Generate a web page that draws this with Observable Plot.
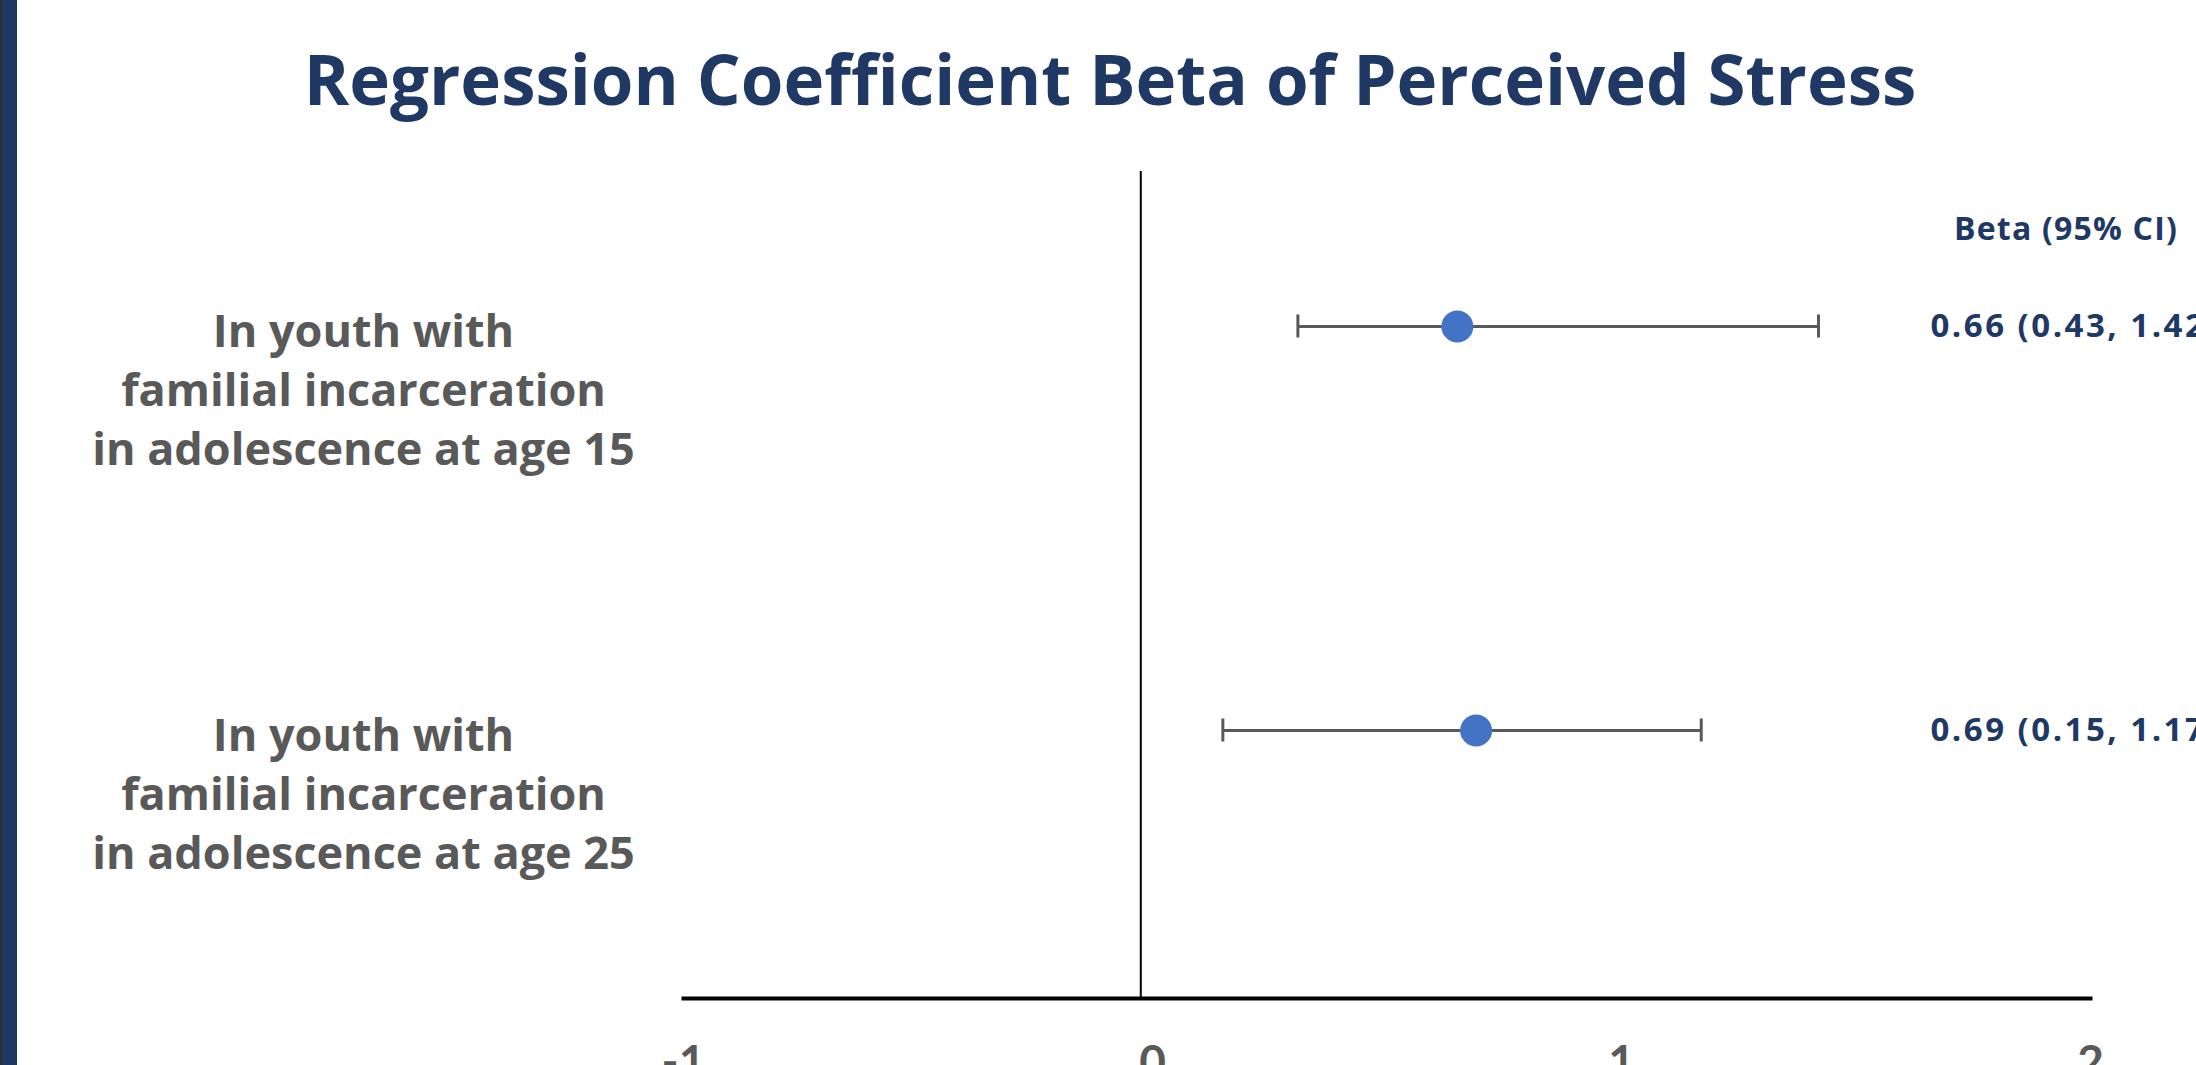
<!DOCTYPE html>
<html>
<head>
<meta charset="utf-8">
<script src="https://cdn.jsdelivr.net/npm/d3@7"></script>
<script src="https://cdn.jsdelivr.net/npm/@observablehq/plot@0.6"></script>
<style>
  html, body { margin: 0; padding: 0; background: #ffffff; overflow: hidden; }
  body { width: 2196px; height: 1065px; position: relative; font-family: "Open Sans", Lato, sans-serif; }
  #bar { position: absolute; left: 0; top: 0; width: 17px; height: 1065px; background: #1f3864; border-left: 2px solid #26303f; box-sizing: border-box; z-index: 2; }
  #title { position: absolute; left: 0; top: 0; width: 2220px; height: 150px; text-align: center; font-family: "Open Sans", sans-serif; font-weight: 700; font-size: 69px; line-height: 69px; color: #203864; box-sizing: border-box; padding-top: 44px; white-space: nowrap; }
  #chart { position: absolute; left: 0; top: 150px; }
</style>
</head>
<body>
<div id="bar"></div>
<div id="title">Regression Coefficient Beta of Perceived Stress</div>
<div id="chart"></div>
<script>
// ---- data ----
const rowLabels = [
  "In youth with\nfamilial incarceration\nin adolescence at age 15",
  "In youth with\nfamilial incarceration\nin adolescence at age 25"
];
const beta   = [0.65, 0.69];
const ciLow  = [0.31, 0.15];
const ciHigh = [1.42, 1.17];
const ciText = ["0.66 (0.43, 1.42)", "0.69 (0.15, 1.17)"];
const ciHeader = "Beta (95% CI)";
const xTicks = [-1, 0, 1, 2];
const refLine = [-0.025];

const rows = rowLabels.map((label, i) => ({label, beta: beta[i], lo: ciLow[i], hi: ciHigh[i], ci: ciText[i]}));

const navy = "#203864";
const gray = "#595959";

const chart = Plot.plot({
  width: 2196,
  height: 915,
  marginLeft: 683,
  marginRight: 106,
  marginTop: 21,
  marginBottom: 67,
  style: {fontFamily: "'Open Sans', Lato, sans-serif", background: "transparent", overflow: "visible"},
  x: {domain: [-1, 2]},
  y: {type: "point", domain: rowLabels, padding: 0.5235, align: 0.3664, axis: null},
  marks: [
    Plot.ruleX(refLine, {stroke: "black", strokeWidth: 2}),
    Plot.frame({anchor: "bottom", stroke: "black", strokeWidth: 4}),
    Plot.axisX({ticks: xTicks, tickSize: 0, tickPadding: 47, tickFormat: d => `${d}`, fontSize: 46, fontWeight: "bold", fontFamily: "Lato", fill: gray, label: null}),
    Plot.ruleY(rows, {y: "label", x1: "lo", x2: "hi", stroke: gray, strokeWidth: 3}),
    Plot.ruleX(rows, {x: "lo", y1: "label", y2: "label", stroke: gray, strokeWidth: 3, insetTop: -11.5, insetBottom: -11.5}),
    Plot.ruleX(rows, {x: "hi", y1: "label", y2: "label", stroke: gray, strokeWidth: 3, insetTop: -11.5, insetBottom: -11.5}),
    Plot.dot(rows, {x: "beta", y: "label", r: 16, fill: "#4472c4", stroke: "none"}),
    Plot.text(rows, {y: "label", text: "label", frameAnchor: "left", textAnchor: "middle", lineAnchor: "top", dx: -320, dy: -22, fontSize: 45, lineHeight: 1.32, fontWeight: "bold", fill: gray}),
    Plot.text(rows, {y: "label", text: "ci", frameAnchor: "right", textAnchor: "start", lineAnchor: "middle", dx: -160, fontSize: 33, fontWeight: "bold", fill: navy}),
    Plot.text([ciHeader], {text: d => d, frameAnchor: "top-right", textAnchor: "middle", lineAnchor: "middle", dx: -24.5, dy: 58, fontSize: 32, fontWeight: "bold", fill: navy})
  ]
});
// letter spacing for the right-hand text column (style only)
d3.select(chart).selectAll("text").filter(function() { return ciText.includes(this.textContent); }).style("letter-spacing", "2.5px");
d3.select(chart).selectAll("text").filter(function() { return this.textContent === ciHeader; }).style("letter-spacing", "1.2px");
document.getElementById("chart").appendChild(chart);
</script>
</body>
</html>
